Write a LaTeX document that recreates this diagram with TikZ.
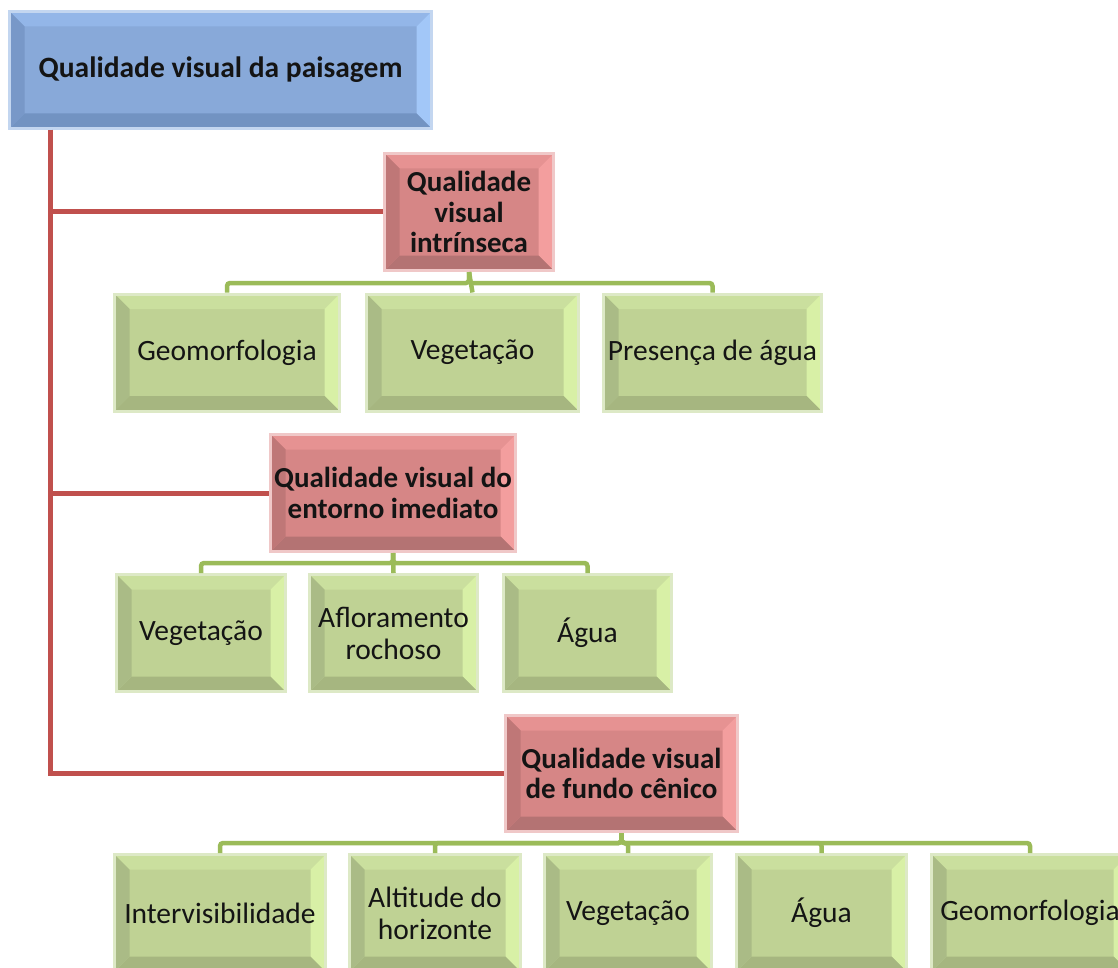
\documentclass[tikz,border=0pt]{standalone}
\usepackage{fontspec}
\setmainfont{Carlito}

\definecolor{bluebase}{HTML}{88A9D9}
\definecolor{bluetop}{HTML}{93B6E8}
\definecolor{blueright}{HTML}{A2C7F8}
\definecolor{bluebot}{HTML}{7293C2}
\definecolor{blueleft}{HTML}{7898C8}
\definecolor{blueline}{HTML}{C3D6F0}

\definecolor{redbase}{HTML}{D68686}
\definecolor{redtop}{HTML}{E69292}
\definecolor{redright}{HTML}{F39E9E}
\definecolor{redbot}{HTML}{B47373}
\definecolor{redleft}{HTML}{BF7777}
\definecolor{redline}{HTML}{F0C8C8}

\definecolor{greenbase}{HTML}{BFD294}
\definecolor{greentop}{HTML}{CADF9E}
\definecolor{greenright}{HTML}{D8F0A6}
\definecolor{greenbot}{HTML}{A6B680}
\definecolor{greenleft}{HTML}{AABB86}
\definecolor{greenline}{HTML}{DDE9C6}

\definecolor{spinered}{HTML}{C0504D}
\definecolor{linkgreen}{HTML}{9BBB59}

\newcommand{\bevelw}{15pt}

\tikzset{
  bevel/.style={fill=#1base, draw=#1line, line width=3pt, inner sep=0pt,
    align=center, text=black!92,
    path picture={
      \path (path picture bounding box.north west) coordinate (bnw)
            (path picture bounding box.north east) coordinate (bne)
            (path picture bounding box.south west) coordinate (bsw)
            (path picture bounding box.south east) coordinate (bse);
      \fill[#1top] (bnw) -- (bne) -- ([shift={(-\bevelw,-\bevelw)}]bne) -- ([shift={(\bevelw,-\bevelw)}]bnw) -- cycle;
      \fill[#1right] (bne) -- (bse) -- ([shift={(-\bevelw,\bevelw)}]bse) -- ([shift={(-\bevelw,-\bevelw)}]bne) -- cycle;
      \fill[#1bot] (bse) -- (bsw) -- ([shift={(\bevelw,\bevelw)}]bsw) -- ([shift={(-\bevelw,\bevelw)}]bse) -- cycle;
      \fill[#1left] (bsw) -- (bnw) -- ([shift={(\bevelw,-\bevelw)}]bnw) -- ([shift={(\bevelw,\bevelw)}]bsw) -- cycle;
    }},
  topbox/.style={bevel=blue, font=\fontsize{29.5}{31}\selectfont\bfseries},
  groupbox/.style={bevel=red, font=\fontsize{29}{30.5}\selectfont\bfseries},
  itembox/.style={bevel=green, font=\fontsize{29.5}{32}\selectfont,
    minimum height=117pt},
  spine/.style={draw=spinered, line width=5pt},
  glink/.style={draw=linkgreen, line width=4.5pt, rounded corners=3pt}
}

\begin{document}
\begin{tikzpicture}[x=1pt, y=-1pt]
    \useasboundingbox (0,0) rectangle (1118,968);
    \clip (0,0) rectangle (1118,968);

    % helper coordinates for the connectors
    \coordinate (spinex) at (50,0);
    \coordinate (bar1) at (0,283);
    \coordinate (bar2) at (0,563);
    \coordinate (bar3) at (0,843);

    % Define the positions of the nodes
    \node[topbox, minimum width=422pt, minimum height=117pt] (root) at (220.5,70) {Qualidade visual da paisagem};

    \node[groupbox, minimum width=169pt, minimum height=117pt] (intr) at (469,212) {Qualidade\\visual\\intrínseca};
    \node[groupbox, minimum width=245pt, minimum height=117pt] (ent) at (393,493) {Qualidade visual do\\entorno imediato};
    \node[groupbox, minimum width=232pt, minimum height=116pt] (fundo) at (621.5,773.5) {Qualidade visual\\de fundo cênico};

    \node[itembox, minimum width=225pt] (intrgeo) at (227,352.5) {Geomorfologia};
    \node[itembox, minimum width=212pt] (intrveg) at (472.5,352.5) {Vegetação};
    \node[itembox, minimum width=218pt] (intragua) at (712.5,352.5) {Presença de água};

    \node[itembox, minimum width=169pt] (entveg) at (201,633) {Vegetação};
    \node[itembox, minimum width=168pt] (entrocha) at (393.5,633) {Afloramento\\rochoso};
    \node[itembox, minimum width=168pt] (entagua) at (587.5,633) {Água};

    \node[itembox, minimum width=211pt] (fundoint) at (220,913) {Intervisibilidade};
    \node[itembox, minimum width=171pt] (fundoalt) at (435,913) {Altitude do\\horizonte};
    \node[itembox, minimum width=167pt] (fundoveg) at (628,913) {Vegetação};
    \node[itembox, minimum width=170pt] (fundoagua) at (821.5,913) {Água};
    \node[itembox, minimum width=197pt] (fundogeo) at (1030,913) {Geomorfologia};

    % Draw the edges
    \draw[spine] (root.south -| spinex) |- (intr.west);
    \draw[spine] (root.south -| spinex) |- (ent.west);
    \draw[spine] (root.south -| spinex) |- (fundo.west);

    \draw[glink] (intr.south) -- (intr.south |- bar1) -| (intrgeo.north);
    \draw[glink] (intr.south) -- (intrveg.north);
    \draw[glink] (intr.south) -- (intr.south |- bar1) -| (intragua.north);

    \draw[glink] (ent.south) -- (ent.south |- bar2) -| (entveg.north);
    \draw[glink] (ent.south) -- (entrocha.north);
    \draw[glink] (ent.south) -- (ent.south |- bar2) -| (entagua.north);

    \draw[glink] (fundo.south) -- (fundo.south |- bar3) -| (fundoint.north);
    \draw[glink] (fundo.south) -- (fundo.south |- bar3) -| (fundoalt.north);
    \draw[glink] (fundo.south) -- (fundo.south |- bar3) -| (fundoveg.north);
    \draw[glink] (fundo.south) -- (fundo.south |- bar3) -| (fundoagua.north);
    \draw[glink] (fundo.south) -- (fundo.south |- bar3) -| (fundogeo.north);
\end{tikzpicture}
\end{document}
